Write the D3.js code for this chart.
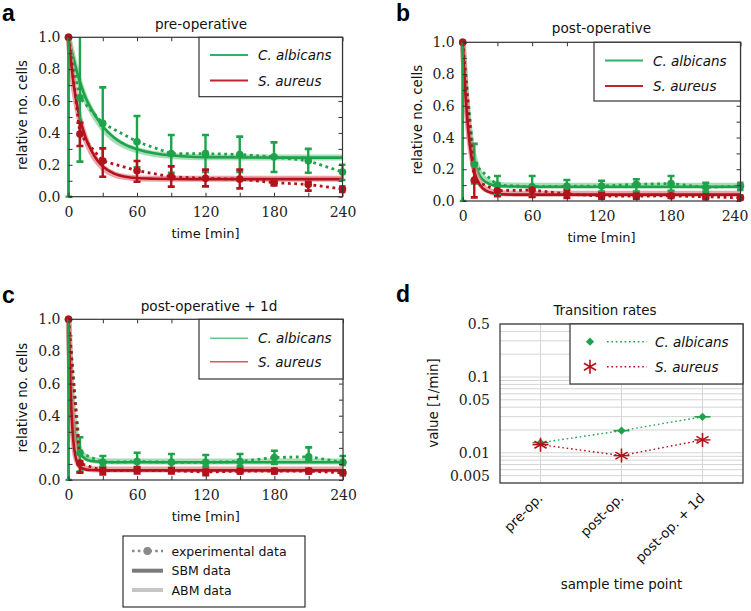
<!DOCTYPE html>
<html><head><meta charset="utf-8">
<script src="https://cdn.jsdelivr.net/npm/d3@7/dist/d3.min.js"></script>
<style>body{margin:0;background:#fff}svg{display:block}</style>
</head><body>
<svg id="chart" width="751" height="611"></svg>
<script>
// ---------------- DATA ----------------
const timePoints = [0, 10, 30, 60, 90, 120, 150, 180, 210, 240];
const xTickValues = [0, 60, 120, 180, 240];
const yTickValues = [0.0, 0.2, 0.4, 0.6, 0.8, 1.0];
const speciesNames = ["C. albicans", "S. aureus"];

// panel a : pre-operative (experimental)
const caMeanA = [1.0, 0.62, 0.46, 0.345, 0.27, 0.27, 0.265, 0.25, 0.225, 0.155];
const caLoA   = [0.0, 0.22, 0.235, 0.185, 0.15, 0.155, 0.155, 0.155, 0.15, 0.105];
const caHiA   = [1.0, 1.05, 0.686, 0.506, 0.387, 0.387, 0.377, 0.341, 0.30, 0.20];
const saMeanA = [1.0, 0.393, 0.224, 0.163, 0.125, 0.115, 0.11, 0.088, 0.077, 0.048];
const saLoA   = [1.0, 0.318, 0.125, 0.094, 0.063, 0.065, 0.052, 0.07, 0.038, 0.03];
const saHiA   = [1.0, 0.464, 0.303, 0.224, 0.19, 0.17, 0.17, 0.105, 0.094, 0.063];
// panel a : model curves
const modelTimesA = [0, 5, 10, 15, 20, 25, 30, 40, 50, 60, 75, 90, 120, 180, 240];
const caSbmA = [1.0, 0.85, 0.72, 0.62, 0.55, 0.49, 0.44, 0.37, 0.325, 0.298, 0.272, 0.258, 0.248, 0.245, 0.245];
const caAbmA = [1.0, 0.84, 0.71, 0.61, 0.54, 0.48, 0.43, 0.36, 0.318, 0.292, 0.268, 0.256, 0.248, 0.246, 0.246];
const saSbmA = [1.0, 0.68, 0.49, 0.37, 0.29, 0.23, 0.19, 0.145, 0.125, 0.117, 0.113, 0.111, 0.11, 0.11, 0.11];
const saAbmA = [1.0, 0.67, 0.48, 0.36, 0.28, 0.222, 0.183, 0.14, 0.123, 0.116, 0.113, 0.112, 0.112, 0.112, 0.112];

// panel b : post-operative
const caMeanB = [1.0, 0.23, 0.10, 0.09, 0.093, 0.094, 0.105, 0.11, 0.086, 0.094];
const caLoB   = [0.0, 0.11, 0.045, 0.03, 0.052, 0.059, 0.059, 0.065, 0.059, 0.07];
const caHiB   = [1.0, 0.36, 0.158, 0.158, 0.132, 0.128, 0.137, 0.158, 0.115, 0.115];
const saMeanB = [1.0, 0.13, 0.065, 0.069, 0.044, 0.031, 0.03, 0.033, 0.027, 0.02];
const saLoB   = [1.0, 0.023, 0.03, 0.025, 0.02, 0.015, 0.015, 0.02, 0.012, 0.008];
const saHiB   = [1.0, 0.237, 0.10, 0.09, 0.07, 0.048, 0.045, 0.045, 0.042, 0.035];
const modelTimesB = [0, 2.5, 5, 7.5, 10, 15, 20, 25, 30, 45, 60, 90, 240];
const caSbmB = [1.0, 0.70, 0.48, 0.34, 0.25, 0.155, 0.12, 0.103, 0.096, 0.091, 0.09, 0.09, 0.09];
const caAbmB = [1.0, 0.72, 0.50, 0.36, 0.27, 0.17, 0.13, 0.11, 0.102, 0.097, 0.096, 0.096, 0.096];
const saSbmB = [1.0, 0.66, 0.43, 0.28, 0.185, 0.10, 0.066, 0.052, 0.045, 0.04, 0.04, 0.04, 0.04];
const saAbmB = [1.0, 0.68, 0.45, 0.30, 0.20, 0.11, 0.073, 0.058, 0.05, 0.046, 0.045, 0.045, 0.045];

// panel c : post-operative + 1d
const caMeanC = [1.0, 0.17, 0.11, 0.115, 0.11, 0.11, 0.115, 0.14, 0.145, 0.11];
const caLoC   = [0.0, 0.052, 0.083, 0.07, 0.07, 0.083, 0.087, 0.10, 0.124, 0.093];
const caHiC   = [1.0, 0.266, 0.149, 0.17, 0.162, 0.156, 0.162, 0.182, 0.203, 0.149];
const saMeanC = [1.0, 0.104, 0.058, 0.06, 0.058, 0.05, 0.055, 0.055, 0.055, 0.045];
const saLoC   = [1.0, 0.046, 0.035, 0.04, 0.04, 0.03, 0.04, 0.04, 0.04, 0.03];
const saHiC   = [1.0, 0.118, 0.075, 0.08, 0.075, 0.065, 0.07, 0.07, 0.07, 0.06];
const modelTimesC = [0, 2, 4, 6, 8, 10, 15, 20, 30, 45, 60, 90, 240];
const caSbmC = [1.0, 0.62, 0.40, 0.28, 0.21, 0.17, 0.13, 0.118, 0.112, 0.11, 0.11, 0.11, 0.11];
const caAbmC = [1.0, 0.64, 0.42, 0.30, 0.225, 0.185, 0.14, 0.125, 0.117, 0.115, 0.115, 0.115, 0.115];
const saSbmC = [1.0, 0.52, 0.26, 0.15, 0.10, 0.08, 0.066, 0.062, 0.06, 0.06, 0.06, 0.06, 0.06];
const saAbmC = [1.0, 0.55, 0.28, 0.16, 0.11, 0.088, 0.072, 0.067, 0.065, 0.065, 0.065, 0.065, 0.065];

// panel d : transition rates
const stages = ["pre-op.", "post-op.", "post-op. + 1d"];
const caRates = [0.0136, 0.0196, 0.0299];
const saRates = [0.0128, 0.0092, 0.0148];
const rateTicks = [0.005, 0.01, 0.05, 0.1, 0.5];

// ---------------- STYLE ----------------
const GREEN = "#1ea34a", GREEN_L = "#86d39e", GREEN_LEG = "#2fb463";
const RED = "#b3121c", RED_L = "#e4868c", RED_LEG = "#c0242d";
const SANS = "DejaVu Sans, sans-serif", SERIF = "DejaVu Serif, serif";
const AX = "#333";

const svg = d3.select("#chart");

function panelLetter(t, x, y) {
  svg.append("text").attr("x", x).attr("y", y).text(t)
    .attr("font-family", "Liberation Sans, Arial, sans-serif").attr("font-weight", "bold")
    .attr("font-size", 23).attr("fill", "#000");
}

function styleAxis(sel, font, size) {
  sel.select(".domain").remove();
  sel.selectAll(".tick line").attr("stroke", AX).attr("stroke-width", 1);
  sel.attr("font-family", font).attr("font-size", size);
  sel.selectAll(".tick text").attr("fill", "#222");
}

function timePanel(o) {
  const x = d3.scaleLinear().domain([0, 240]).range([o.x0, o.x1]);
  const y = d3.scaleLinear().domain([0, 1]).range([o.yB, o.yT]);
  const cid = "clip" + o.key;
  svg.append("clipPath").attr("id", cid).append("rect")
    .attr("x", o.x0 - 3).attr("y", o.yT).attr("width", o.x1 - o.x0 + 6).attr("height", o.yB - o.yT + 1);
  const g = svg.append("g");
  const plot = g.append("g").attr("clip-path", `url(#${cid})`);
  const smooth = d3.line().x(d => x(d[0])).y(d => y(d[1])).curve(d3.curveMonotoneX);
  const straight = d3.line().x(d => x(d[0])).y(d => y(d[1]));
  const series = [
    {c: GREEN, l: GREEN_L, sbm: o.caSbm, abm: o.caAbm, mean: o.caMean, lo: o.caLo, hi: o.caHi},
    {c: RED, l: RED_L, sbm: o.saSbm, abm: o.saAbm, mean: o.saMean, lo: o.saLo, hi: o.saHi}
  ];
  series.forEach(s => {
    plot.append("path").datum(d3.zip(o.mt, s.abm)).attr("d", smooth)
      .attr("fill", "none").attr("stroke", s.l).attr("stroke-width", 6).attr("stroke-opacity", 0.75);
    plot.append("path").datum(d3.zip(o.mt, s.sbm)).attr("d", smooth)
      .attr("fill", "none").attr("stroke", s.c).attr("stroke-width", 2.6);
  });
  series.forEach(s => {
    const pts = d3.zip(timePoints, s.mean, s.lo, s.hi);
    plot.append("path").datum(pts).attr("d", straight).attr("fill", "none")
      .attr("stroke", s.c).attr("stroke-width", 2.8).attr("stroke-dasharray", "2.8 3.6");
    plot.selectAll(null).data(pts).join("line")
      .attr("x1", d => x(d[0])).attr("x2", d => x(d[0]))
      .attr("y1", d => y(d[2])).attr("y2", d => y(d[3]))
      .attr("stroke", s.c).attr("stroke-width", 2.4);
    ["lo", "hi"].forEach((k, ki) => {
      plot.selectAll(null).data(pts).join("line")
        .attr("x1", d => x(d[0]) - 3.5).attr("x2", d => x(d[0]) + 3.5)
        .attr("y1", d => y(d[2 + ki])).attr("y2", d => y(d[2 + ki]))
        .attr("stroke", s.c).attr("stroke-width", 2.6);
    });
    g.selectAll(null).data(pts).join("circle")
      .attr("cx", d => x(d[0])).attr("cy", d => y(d[1])).attr("r", 3.8).attr("fill", s.c);
  });
  // frame
  g.append("rect").attr("x", o.x0).attr("y", o.yT).attr("width", o.x1 - o.x0).attr("height", o.yB - o.yT)
    .attr("fill", "none").attr("stroke", AX).attr("stroke-width", 1.2);
  // re-draw t=0 error bars above the frame (they sit on the left spine)
  series.forEach(s => {
    if (s.lo[0] < s.hi[0]) {
      g.append("line").attr("x1", x(timePoints[0])).attr("x2", x(timePoints[0]))
        .attr("y1", y(s.lo[0])).attr("y2", y(s.hi[0])).attr("stroke", s.c).attr("stroke-width", 2.4);
    }
  });
  // axes (inward ticks)
  const xt = d3.range(0, 241, 30), yt = d3.range(0, 11).map(i => i / 10);
  const xb = g.append("g").attr("transform", `translate(0,${o.yB})`)
    .call(d3.axisBottom(x).tickValues(xt).tickSize(-4).tickPadding(10.5)
      .tickFormat(d => xTickValues.includes(d) ? d : ""));
  styleAxis(xb, SERIF, 14);
  xb.selectAll(".tick text").filter(d => d === 240).attr("dx", o.lastDx || 0);
  styleAxis(g.append("g").attr("transform", `translate(0,${o.yT})`)
    .call(d3.axisTop(x).tickValues(xt).tickSize(-4).tickFormat("")), SERIF, 14);
  styleAxis(g.append("g").attr("transform", `translate(${o.x0},0)`)
    .call(d3.axisLeft(y).tickValues(yt).tickSize(-4).tickPadding(8)
      .tickFormat(d => yTickValues.some(v => Math.abs(v - d) < 1e-9) ? d.toFixed(1) : "")), SERIF, 14);
  styleAxis(g.append("g").attr("transform", `translate(${o.x1},0)`)
    .call(d3.axisRight(y).tickValues(yt).tickSize(-4).tickFormat("")), SERIF, 14);
  // labels
  g.append("text").attr("x", o.titleX).attr("y", o.titleY).attr("text-anchor", "middle")
    .attr("font-family", SANS).attr("font-size", 13.6).attr("fill", "#111").text(o.title);
  g.append("text").attr("x", (o.x0 + o.x1) / 2).attr("y", o.yB + 41).attr("text-anchor", "middle")
    .attr("font-family", SANS).attr("font-size", 13).attr("fill", "#111").text("time [min]");
  g.append("text").attr("transform", `translate(${o.ylabX},${(o.yT + o.yB) / 2 - 2}) rotate(-90)`)
    .attr("text-anchor", "middle").attr("font-family", SANS).attr("font-size", 13.4).attr("fill", "#111")
    .text("relative no. cells");
  // legend
  const L = o.leg;
  g.append("rect").attr("x", L.x).attr("y", o.yT).attr("width", o.x1 - L.x).attr("height", L.h)
    .attr("fill", "#fff").attr("stroke", AX).attr("stroke-width", 1.2);
  [[GREEN_LEG, L.y1], [RED_LEG, L.y2]].forEach(([c, yy], i) => {
    g.append("line").attr("x1", L.x + 11).attr("x2", L.x + 49).attr("y1", yy).attr("y2", yy)
      .attr("stroke", c).attr("stroke-width", L.lw).attr("stroke-opacity", L.op);
    g.append("text").attr("x", L.x + 59).attr("y", yy + 5).attr("font-family", SANS)
      .attr("font-style", "italic").attr("font-size", 13.5).attr("fill", "#111").text(speciesNames[i]);
  });
}

timePanel({key: "a", x0: 68.5, x1: 342.5, yT: 37.3, yB: 196.7, title: "pre-operative", titleX: 201, titleY: 28.5,
  ylabX: 26.5, mt: modelTimesA, caSbm: caSbmA, caAbm: caAbmA, saSbm: saSbmA, saAbm: saAbmA,
  caMean: caMeanA, caLo: caLoA, caHi: caHiA, saMean: saMeanA, saLo: saLoA, saHi: saHiA,
  leg: {x: 199, h: 59.4, y1: 55, y2: 80.5, lw: 2, op: 1}});
timePanel({key: "b", x0: 462.7, x1: 740.5, yT: 42.3, yB: 201, title: "post-operative", titleX: 601.5, titleY: 32.5,
  ylabX: 421.5, lastDx: -6, mt: modelTimesB, caSbm: caSbmB, caAbm: caAbmB, saSbm: saSbmB, saAbm: saAbmB,
  caMean: caMeanB, caLo: caLoB, caHi: caHiB, saMean: saMeanB, saLo: saLoB, saHi: saHiB,
  leg: {x: 594, h: 58.7, y1: 60.5, y2: 86, lw: 2, op: 1}});
timePanel({key: "c", x0: 68.5, x1: 343, yT: 319.3, yB: 480, title: "post-operative + 1d", titleX: 209, titleY: 311,
  ylabX: 26.5, mt: modelTimesC, caSbm: caSbmC, caAbm: caAbmC, saSbm: saSbmC, saAbm: saAbmC,
  caMean: caMeanC, caLo: caLoC, caHi: caHiC, saMean: saMeanC, saLo: saLoC, saHi: saHiC,
  leg: {x: 199, h: 59.7, y1: 338.3, y2: 361.7, lw: 1.5, op: 0.75}});

// ---------------- PANEL D ----------------
(function () {
  const x0 = 500, x1 = 743, yT = 324, yB = 483;
  const x = d3.scalePoint().domain(stages).range([x0, x1]).padding(0.5);
  const y = d3.scaleLog().domain([0.004, 0.5]).range([yB, yT]);
  const g = svg.append("g");
  // grid
  g.selectAll(null).data(y.ticks()).join("line")
    .attr("x1", x0).attr("x2", x1).attr("y1", d => y(d)).attr("y2", d => y(d))
    .attr("stroke", "#d4d4d4").attr("stroke-width", 1);
  g.selectAll(null).data(stages).join("line")
    .attr("x1", d => x(d)).attr("x2", d => x(d)).attr("y1", yT).attr("y2", yB)
    .attr("stroke", "#d4d4d4").attr("stroke-width", 1);
  // axes labels
  const ya = g.append("g").attr("transform", `translate(${x0},0)`)
    .call(d3.axisLeft(y).tickValues(rateTicks).tickSize(0).tickPadding(10).tickFormat(d => String(d)));
  styleAxis(ya, SERIF, 14);
  stages.forEach(s => {
    g.append("text").attr("transform", `translate(${x(s) + 3},${yB + 16}) rotate(-45)`)
      .attr("text-anchor", "end").attr("font-family", SANS).attr("font-size", 13.3).attr("fill", "#111").text(s);
  });
  // series
  const line = d3.line().x((d, i) => x(stages[i])).y(d => y(d));
  const diamond = d3.symbol(d3.symbolSquare, 34);
  function asterisk(cx, cy, r) {
    return [90, 30, 150].map(a => {
      const dx = r * Math.cos(a * Math.PI / 180), dy = r * Math.sin(a * Math.PI / 180);
      return `M${cx - dx},${cy - dy}L${cx + dx},${cy + dy}`;
    }).join("");
  }
  g.append("path").datum(caRates).attr("d", line).attr("fill", "none").attr("stroke", GREEN)
    .attr("stroke-width", 1.4).attr("stroke-dasharray", "1.6 2.8");
  g.append("path").datum(saRates).attr("d", line).attr("fill", "none").attr("stroke", RED)
    .attr("stroke-width", 1.4).attr("stroke-dasharray", "1.6 2.8");
  caRates.forEach((v, i) => {
    g.append("line").attr("x1", x(stages[i]) - 8).attr("x2", x(stages[i]) + 8).attr("y1", y(v)).attr("y2", y(v))
      .attr("stroke", GREEN).attr("stroke-width", 1.6);
    g.append("path").attr("d", diamond()).attr("fill", GREEN)
      .attr("transform", `translate(${x(stages[i])},${y(v)}) rotate(45)`);
  });
  saRates.forEach((v, i) => {
    g.append("line").attr("x1", x(stages[i]) - 8).attr("x2", x(stages[i]) + 8).attr("y1", y(v)).attr("y2", y(v))
      .attr("stroke", RED).attr("stroke-width", 1.4);
    g.append("path").attr("d", asterisk(x(stages[i]), y(v), 7)).attr("stroke", RED).attr("stroke-width", 1.6);
  });
  g.append("rect").attr("x", x0).attr("y", yT).attr("width", x1 - x0).attr("height", yB - yT)
    .attr("fill", "none").attr("stroke", AX).attr("stroke-width", 1.2);
  // legend
  g.append("rect").attr("x", 570).attr("y", yT).attr("width", x1 - 570).attr("height", 60)
    .attr("fill", "#fff").attr("stroke", AX).attr("stroke-width", 1.2);
  g.append("path").attr("d", diamond()).attr("fill", GREEN).attr("transform", "translate(590,341.7) rotate(45)");
  g.append("line").attr("x1", 607).attr("x2", 647).attr("y1", 341.7).attr("y2", 341.7)
    .attr("stroke", GREEN).attr("stroke-width", 1.4).attr("stroke-dasharray", "1.6 2.8");
  g.append("path").attr("d", asterisk(590, 366.7, 7)).attr("stroke", RED).attr("stroke-width", 1.6);
  g.append("line").attr("x1", 607).attr("x2", 647).attr("y1", 366.7).attr("y2", 366.7)
    .attr("stroke", RED).attr("stroke-width", 1.4).attr("stroke-dasharray", "1.6 2.8");
  [[speciesNames[0], 341.7], [speciesNames[1], 366.7]].forEach(([t, yy]) => {
    g.append("text").attr("x", 655).attr("y", yy + 5).attr("font-family", SANS).attr("font-style", "italic")
      .attr("font-size", 13.5).attr("fill", "#111").text(t);
  });
  g.append("text").attr("x", 605).attr("y", 314.5).attr("text-anchor", "middle").attr("font-family", SANS)
    .attr("font-size", 13.4).attr("fill", "#111").text("Transition rates");
  g.append("text").attr("x", 621.5).attr("y", 589).attr("text-anchor", "middle").attr("font-family", SANS)
    .attr("font-size", 13.4).attr("fill", "#111").text("sample time point");
  g.append("text").attr("transform", "translate(438,403) rotate(-90)").attr("text-anchor", "middle")
    .attr("font-family", SANS).attr("font-size", 13.4).attr("fill", "#111").text("value [1/min]");
})();

// ---------------- BOTTOM LEGEND ----------------
(function () {
  const g = svg.append("g");
  g.append("rect").attr("x", 123).attr("y", 536).attr("width", 182).attr("height", 71)
    .attr("fill", "#fff").attr("stroke", AX).attr("stroke-width", 1.2);
  const rows = [["experimental data", 551], ["SBM data", 570.7], ["ABM data", 590]];
  g.append("line").attr("x1", 132).attr("x2", 163).attr("y1", rows[0][1]).attr("y2", rows[0][1])
    .attr("stroke", "#8a8a8a").attr("stroke-width", 2.6).attr("stroke-dasharray", "2.6 3.2");
  g.append("circle").attr("cx", 147.5).attr("cy", rows[0][1]).attr("r", 4).attr("fill", "#8a8a8a");
  g.append("line").attr("x1", 132).attr("x2", 163).attr("y1", rows[1][1]).attr("y2", rows[1][1])
    .attr("stroke", "#7a7a7a").attr("stroke-width", 4);
  g.append("line").attr("x1", 132).attr("x2", 163).attr("y1", rows[2][1]).attr("y2", rows[2][1])
    .attr("stroke", "#c6c6c6").attr("stroke-width", 4);
  rows.forEach(([t, yy]) => g.append("text").attr("x", 171.5).attr("y", yy + 4.5).attr("font-family", SANS)
    .attr("font-size", 12.5).attr("fill", "#111").text(t));
})();

panelLetter("a", 2, 21);
panelLetter("b", 396, 20.5);
panelLetter("c", 2, 302.5);
panelLetter("d", 396, 302);
</script>
</body></html>
